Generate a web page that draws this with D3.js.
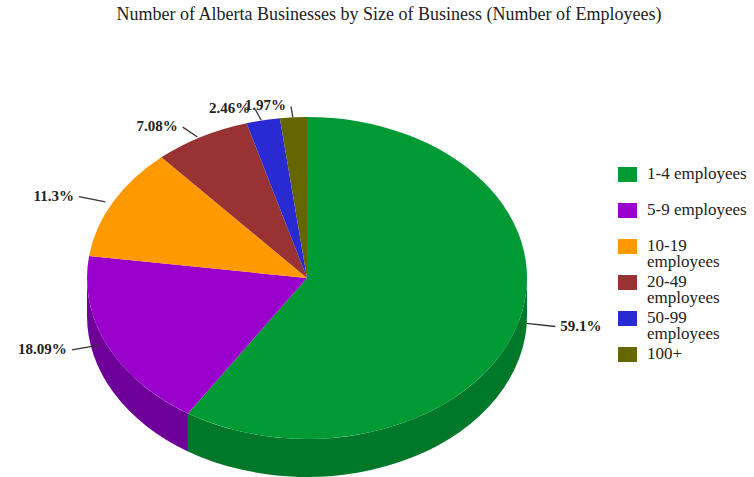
<!DOCTYPE html>
<html lang="en">
<head>
<meta charset="UTF-8">
<title>Alberta Businesses by Size</title>
<script src="https://d3js.org/d3.v7.min.js"></script>
<style>
  body { margin: 0; background: #fff; }
  text { font-family: "Liberation Serif", "Times New Roman", serif; }
</style>
</head>
<body>
<div id="chart"></div>
<script>
// data
const categories = ["1-4 employees", "5-9 employees", "10-19 employees", "20-49 employees", "50-99 employees", "100+"];
const legendLines = [["1-4 employees"], ["5-9 employees"], ["10-19", "employees"], ["20-49", "employees"], ["50-99", "employees"], ["100+"]];
const shares = [59.1, 18.09, 11.3, 7.08, 2.46, 1.97];
const shareLabels = ["59.1%", "18.09%", "11.3%", "7.08%", "2.46%", "1.97%"];
const topColors = ["#009a35", "#9900cc", "#ff9900", "#993333", "#2a2ad2", "#666600"];
const sideColors = ["#00782a", "#6e0099", "#c27400", "#732626", "#1f1f9e", "#4d4d00"];

const W = 754, H = 477;
const cx = 307, cy = 278, rx = 220, ry = 161, depth = 38;

const svg = d3.select("#chart").append("svg")
  .attr("width", W)
  .attr("height", H);

svg.append("text")
  .attr("x", 389)
  .attr("y", 20)
  .attr("text-anchor", "middle")
  .attr("font-size", 18)
  .attr("fill", "#222")
  .text("Number of Alberta Businesses by Size of Business (Number of Employees)");

const pie = d3.pie().sort(null).value(d => d);
const arcs = pie(shares);

function pt(a, dy) {
  return [cx + rx * Math.sin(a), cy - ry * Math.cos(a) + (dy || 0)];
}

// side walls (only the front half shows)
const g = svg.append("g");
arcs.forEach((d, i) => {
  const s = Math.max(d.startAngle, Math.PI / 2);
  const e = Math.min(d.endAngle, Math.PI * 3 / 2);
  if (s >= e) return;
  const p0 = pt(s), p1 = pt(e), p2 = pt(e, depth), p3 = pt(s, depth);
  const path = `M${p0} A${rx},${ry} 0 0 1 ${p1} L${p2} A${rx},${ry} 0 0 0 ${p3} Z`;
  g.append("path").attr("d", path).attr("fill", sideColors[i]);
});

// top face
arcs.forEach((d, i) => {
  const p0 = pt(d.startAngle), p1 = pt(d.endAngle);
  const large = d.endAngle - d.startAngle > Math.PI ? 1 : 0;
  const path = `M${cx},${cy} L${p0} A${rx},${ry} 0 ${large} 1 ${p1} Z`;
  g.append("path").attr("d", path).attr("fill", topColors[i]);
});

// percentage labels with leader lines
arcs.forEach((d, i) => {
  const a = (d.startAngle + d.endAngle) / 2;
  const sx = cx + rx * 1.04 * Math.sin(a), sy = cy - ry * Math.cos(a);
  const ex = sx + 30 * Math.sin(a), ey = sy - 11 * Math.cos(a);
  svg.append("line")
    .attr("x1", sx).attr("y1", sy)
    .attr("x2", ex).attr("y2", ey)
    .attr("stroke", "#333")
    .attr("stroke-width", 1.3);
  const right = Math.sin(a) > 0;
  svg.append("text")
    .attr("x", right ? ex + 5 : ex - 5)
    .attr("y", ey + 4)
    .attr("text-anchor", right ? "start" : "end")
    .attr("font-size", 15)
    .attr("font-weight", "bold")
    .attr("fill", "#222")
    .text(shareLabels[i]);
});

// legend
const legend = svg.append("g");
categories.forEach((c, i) => {
  const top = 167 + i * 36;
  legend.append("rect")
    .attr("x", 618).attr("y", top)
    .attr("width", 19).attr("height", 15)
    .attr("fill", topColors[i]);
  const t = legend.append("text")
    .attr("x", 647)
    .attr("y", top + 12)
    .attr("font-size", 17)
    .attr("fill", "#222");
  legendLines[i].forEach((ln, j) => {
    t.append("tspan").attr("x", 647).attr("dy", j === 0 ? 0 : 16).text(ln);
  });
});
</script>
</body>
</html>
